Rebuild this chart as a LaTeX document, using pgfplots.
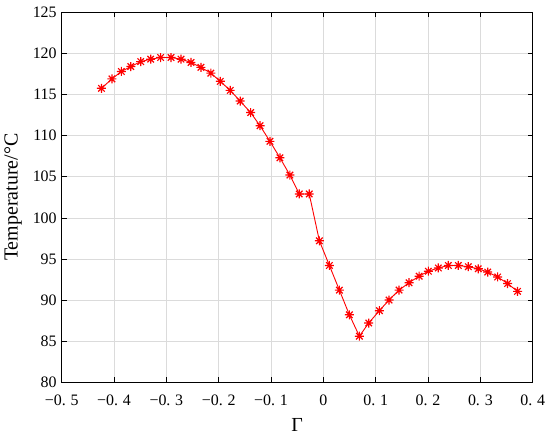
\documentclass[border=0pt]{standalone}
\usepackage{fontspec}
\setmainfont{Liberation Serif}
\usepackage{pgfplots}
\pgfplotsset{compat=1.18}
\pgfdeclareplotmark{mstar}{%
  \pgfpathmoveto{\pgfqpoint{-\pgfplotmarksize}{0pt}}\pgfpathlineto{\pgfqpoint{\pgfplotmarksize}{0pt}}%
  \pgfpathmoveto{\pgfqpoint{0pt}{-\pgfplotmarksize}}\pgfpathlineto{\pgfqpoint{0pt}{\pgfplotmarksize}}%
  \pgfpathmoveto{\pgfqpoint{-0.72\pgfplotmarksize}{-0.72\pgfplotmarksize}}\pgfpathlineto{\pgfqpoint{0.72\pgfplotmarksize}{0.72\pgfplotmarksize}}%
  \pgfpathmoveto{\pgfqpoint{-0.72\pgfplotmarksize}{0.72\pgfplotmarksize}}\pgfpathlineto{\pgfqpoint{0.72\pgfplotmarksize}{-0.72\pgfplotmarksize}}%
  \pgfusepathqstroke}
\begin{document}
\begin{tikzpicture}
\begin{axis}[
  scale only axis,
  width=471bp, height=369.9bp,
  xmin=-0.5, xmax=0.4, ymin=80, ymax=125,
  xtick={-0.5,-0.4,-0.3,-0.2,-0.1,0,0.1,0.2,0.3,0.4},
  xticklabels={−0.\hspace{0.3em}5,−0.\hspace{0.3em}4,−0.\hspace{0.3em}3,−0.\hspace{0.3em}2,−0.\hspace{0.3em}1,0,0.\hspace{0.3em}1,0.\hspace{0.3em}2,0.\hspace{0.3em}3,0.\hspace{0.3em}4},
  ytick={80,85,...,125},
  /pgf/number format/assume math mode=true,
  tick label style={font=\fontsize{16}{16}\selectfont},
  xticklabel style={anchor=base, yshift=-23bp},
  yticklabel style={anchor=east, xshift=-1.5bp},
  tick align=inside, tick pos=both,
  major tick length=5bp,
  every tick/.style={black, line width=0.6bp},
  axis line style={black, line width=0.8bp},
  grid=major,
  grid style={gray!28, line width=0.6bp},
  xlabel={Γ},
  ylabel={Temperature/°C},
  label style={font=\fontsize{20}{20}\selectfont},
  xlabel style={at={(rel axis cs:0.5,0)}, anchor=base, yshift=-48.8bp},
  ylabel style={at={(rel axis cs:0,0.5)}, anchor=center, yshift=48.7bp},
]
\addplot[red, line width=0.9bp, mark=mstar, mark size=4.5bp, mark options={line width=1.2bp}] coordinates {
(-0.424,115.75) (-0.404,116.9) (-0.386,117.8) (-0.368,118.4) (-0.349,119.0)
(-0.330,119.3) (-0.311,119.5) (-0.291,119.5) (-0.272,119.3) (-0.253,118.9)
(-0.234,118.3) (-0.215,117.6) (-0.197,116.6) (-0.178,115.5) (-0.159,114.2)
(-0.139,112.8) (-0.121,111.2) (-0.102,109.3) (-0.083,107.3) (-0.064,105.2)
(-0.046,102.9) (-0.027,102.9) (-0.0076,97.2) (0.0115,94.2) (0.0306,91.2)
(0.0497,88.2) (0.0688,85.6) (0.0867,87.2) (0.107,88.7) (0.1255,90.0)
(0.1446,91.2) (0.1637,92.1) (0.183,92.9) (0.2006,93.5) (0.2197,93.9)
(0.2388,94.2) (0.2579,94.2) (0.277,94.05) (0.296,93.8) (0.314,93.4)
(0.333,92.8) (0.352,92.0) (0.371,91.05)
};
\coordinate (sw) at (rel axis cs:0,0);
\coordinate (ne) at (rel axis cs:1,1);
\end{axis}
\pgfresetboundingbox
\useasboundingbox ([xshift=-61.7bp,yshift=-54.8bp]sw) rectangle ([xshift=17.3bp,yshift=12.3bp]ne);
\end{tikzpicture}
\end{document}
